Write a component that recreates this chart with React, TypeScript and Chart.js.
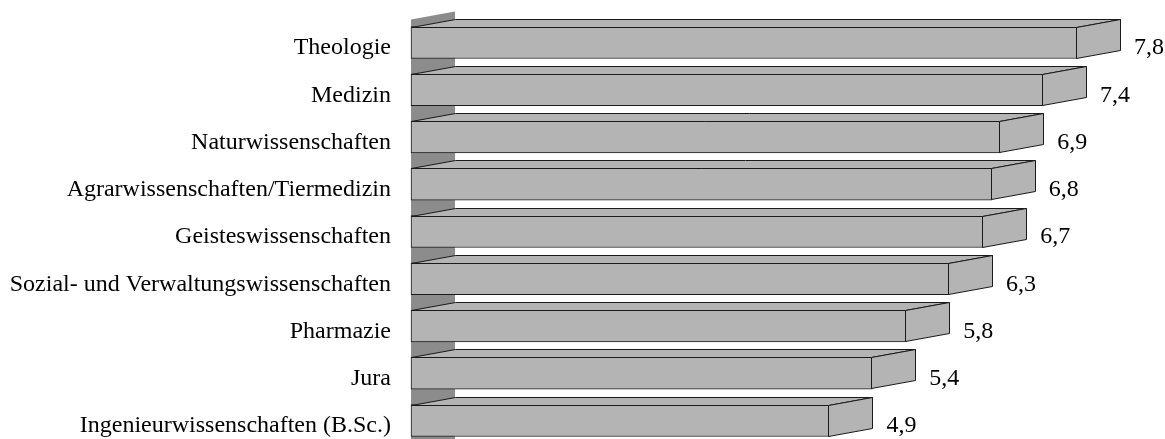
import React, { useEffect, useRef } from "react";
import { Chart, registerables } from "chart.js";

Chart.register(...registerables);

const categories: string[] = [
  "Theologie",
  "Medizin",
  "Naturwissenschaften",
  "Agrarwissenschaften/Tiermedizin",
  "Geisteswissenschaften",
  "Sozial- und Verwaltungswissenschaften",
  "Pharmazie",
  "Jura",
  "Ingenieurwissenschaften (B.Sc.)",
];

const values: number[] = [7.8, 7.4, 6.9, 6.8, 6.7, 6.3, 5.8, 5.4, 4.9];

const valueLabels: string[] = values.map((v) => v.toFixed(1).replace(".", ","));

const FONT_FAMILY = '"Liberation Serif", "Times New Roman", serif';
const FONT_SIZE = 24;
const FACE = "#b4b4b4";
const WALL = "#8c8c8c";
const EDGE = "#1a1a1a";
const DX = 44;
const DY = 8;
const WALL_RISE = 7;

const threeD = {
  id: "threeD",
  beforeDatasetsDraw(chart: any) {
    const meta = chart.getDatasetMeta(0);
    if (!meta.data.length) return;
    const first = meta.data[0].getProps(["y", "height"], true);
    const ctx = chart.ctx;
    const x0 = chart.scales.x.getPixelForValue(0);
    const top = first.y - first.height / 2 - WALL_RISE;
    ctx.save();
    ctx.fillStyle = WALL;
    ctx.beginPath();
    ctx.moveTo(x0, top);
    ctx.lineTo(x0 + DX, top - DY);
    ctx.lineTo(x0 + DX, chart.height);
    ctx.lineTo(x0, chart.height);
    ctx.closePath();
    ctx.fill();
    ctx.restore();
  },
  afterDatasetsDraw(chart: any) {
    const meta = chart.getDatasetMeta(0);
    const ctx = chart.ctx;
    ctx.save();
    ctx.lineWidth = 1;
    ctx.lineJoin = "miter";
    meta.data.forEach((bar: any, i: number) => {
      const p = bar.getProps(["x", "y", "base", "height"], true);
      const left = Math.round(p.base) + 0.5;
      const right = Math.round(p.x) - 0.5;
      const top = Math.round(p.y - p.height / 2) + 0.5;
      const bottom = Math.round(p.y + p.height / 2) - 0.5;
      ctx.fillStyle = FACE;
      ctx.strokeStyle = EDGE;
      // top face
      ctx.beginPath();
      ctx.moveTo(left, top);
      ctx.lineTo(left + DX, top - DY);
      ctx.lineTo(right + DX, top - DY);
      ctx.lineTo(right, top);
      ctx.closePath();
      ctx.fill();
      ctx.stroke();
      // right face
      ctx.beginPath();
      ctx.moveTo(right, top);
      ctx.lineTo(right + DX, top - DY);
      ctx.lineTo(right + DX, bottom - DY);
      ctx.lineTo(right, bottom);
      ctx.closePath();
      ctx.fill();
      ctx.stroke();
      // value label
      ctx.fillStyle = "#000000";
      ctx.font = `${FONT_SIZE}px ${FONT_FAMILY}`;
      ctx.textAlign = "left";
      ctx.textBaseline = "middle";
      ctx.fillText(valueLabels[i], p.x + DX + 13, p.y + 5.5);
    });
    ctx.restore();
  },
};

export default function App() {
  const canvasRef = useRef<HTMLCanvasElement | null>(null);

  useEffect(() => {
    if (!canvasRef.current) return;
    const chart = new Chart(canvasRef.current, {
      type: "bar",
      data: {
        labels: categories,
        datasets: [
          {
            data: values,
            backgroundColor: FACE,
            borderColor: EDGE,
            borderWidth: 1,
            borderSkipped: false,
            barThickness: 32,
            clip: false as any,
          },
        ],
      },
      options: {
        indexAxis: "y",
        animation: false,
        responsive: true,
        maintainAspectRatio: false,
        layout: {
          padding: { left: 0, top: 42.5, bottom: 18.5, right: 1165 - (411 + 8 * 85.4) },
        },
        plugins: {
          legend: { display: false },
          tooltip: { enabled: false },
        },
        scales: {
          x: {
            display: false,
            min: 0,
            max: 8,
          },
          y: {
            offset: false,
            grid: { display: false, drawTicks: false },
            border: { display: false },
            afterFit: (scale: any) => {
              scale.width = 411;
              scale.paddingTop = 0;
              scale.paddingBottom = 0;
            },
            ticks: {
              padding: 20,
              labelOffset: 5.5,
              color: "#000000",
              font: { family: FONT_FAMILY, size: FONT_SIZE },
              autoSkip: false,
            },
          },
        },
      },
      plugins: [threeD],
    });
    return () => chart.destroy();
  }, []);

  return (
    <div style={{ position: "fixed", left: 0, top: 0, width: 1165, height: 439, background: "#ffffff" }}>
      <canvas ref={canvasRef} />
    </div>
  );
}
